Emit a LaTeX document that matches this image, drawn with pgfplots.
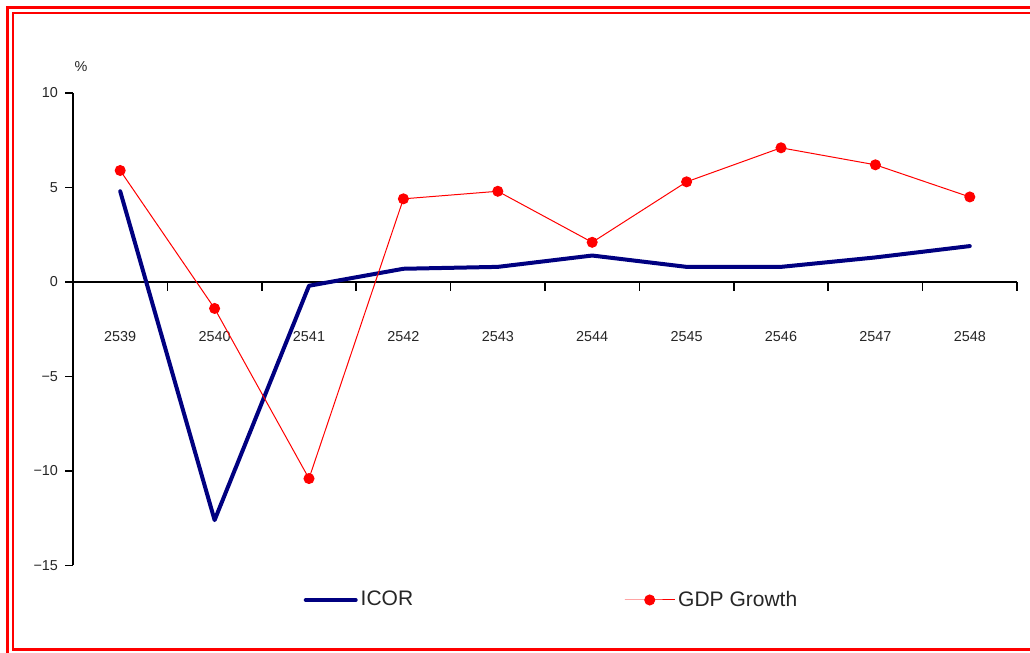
\documentclass[border=0pt]{standalone}
\usepackage{pgfplots}
\pgfplotsset{compat=1.18}
\usepackage{fontspec}
\setmainfont{Liberation Sans}
\definecolor{icor}{RGB}{0,0,128}
\definecolor{gdp}{RGB}{255,0,0}

\pgfplotstableread{
x icor gdp
0 4.8 5.9
1 -12.6 -1.4
2 -0.2 -10.4
3 0.7 4.4
4 0.8 4.8
5 1.4 2.1
6 0.8 5.3
7 0.8 7.1
8 1.3 6.2
9 1.9 4.5
}\datatable

\begin{document}
\begin{tikzpicture}
\useasboundingbox (0,0) rectangle (515pt,326.5pt);
\clip (0,0) rectangle (515pt,326.5pt);
\draw[gdp, line width=1.1pt] (3.75pt,-10pt) -- (3.75pt,322.75pt) -- (530pt,322.75pt);
\draw[gdp, line width=1.1pt] (530pt,1.75pt) -- (6.6pt,1.75pt) -- (6.6pt,319.9pt) -- (530pt,319.9pt);
\begin{axis}[
  at={(36.5pt,43.75pt)}, anchor=south west,
  scale only axis, width=472pt, height=236.25pt,
  xmin=-0.5, xmax=9.5, ymin=-15, ymax=10,
  axis y line=left, axis x line=middle,
  axis line style={-, line width=0.8pt, black},
  tick style={black, line width=0.8pt},
  tick align=outside,
  hide obscured x ticks=false, hide obscured y ticks=false,
  xtick={0,...,9},
  xticklabels={2539,2540,2541,2542,2543,2544,2545,2546,2547,2548},
  minor xtick={-0.5,0.5,...,9.5},
  major x tick style={draw=none},
  major tick length=4pt, minor tick length=4.5pt,
  ytick={-15,-10,-5,0,5,10},
  yticklabels={−15,−10,−5,0,5,10},
  ticklabel style={font=\fontsize{7.2}{8}\selectfont, text=black!85},
  xticklabel style={yshift=-17pt},
  clip=false,
  legend style={draw=none, fill=none, at={(0.244,-0.073)}, anchor=west, inner sep=0pt,
    legend columns=2, font=\fontsize{10.5}{12}\selectfont, text=black!85,
    /tikz/every even column/.append style={column sep=104pt},
    nodes={inner sep=1.5pt}},
  legend image code/.code={\draw[mark repeat=2,mark phase=2,#1] plot coordinates {(0pt,0pt) (12.5pt,0pt) (25pt,0pt)};},
]
\addplot[icor, line width=2pt, no markers, line join=round, line cap=round] table[x=x,y=icor] {\datatable};
\addlegendentry{ICOR}
\addplot[gdp, line width=0.5pt, mark=*, mark size=2.5pt, mark options={fill=gdp, draw=gdp}] table[x=x,y=gdp] {\datatable};
\addlegendentry{GDP Growth}
\node[font=\fontsize{7.2}{8}\selectfont, text=black!85] at ([xshift=4pt,yshift=13pt]rel axis cs:0,1) {\%};
\end{axis}
\end{tikzpicture}
\end{document}
